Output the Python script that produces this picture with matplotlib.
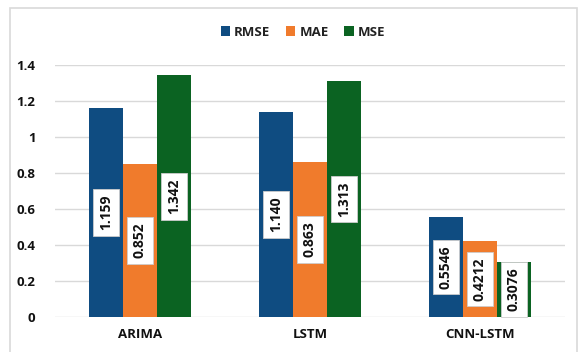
import numpy as np
import matplotlib
matplotlib.use("Agg")
import matplotlib.pyplot as plt
from matplotlib.patches import Rectangle

# data
models = ["ARIMA", "LSTM", "CNN-LSTM"]
rmse = [1.159, 1.140, 0.5546]
mae = [0.852, 0.863, 0.4212]
mse = [1.342, 1.313, 0.3076]
rmse_txt = ["1.159", "1.140", "0.5546"]
mae_txt = ["0.852", "0.863", "0.4212"]
mse_txt = ["1.342", "1.313", "0.3076"]
yticks = [0, 0.2, 0.4, 0.6, 0.8, 1, 1.2, 1.4]
ytick_labels = ["0", "0.2", "0.4", "0.6", "0.8", "1", "1.2", "1.4"]

plt.rcParams["font.family"] = ["Open Sans", "DejaVu Sans"]

colors = ["#0F4C81", "#F07B2C", "#0B6322"]
series = [("RMSE", rmse, rmse_txt), ("MAE", mae, mae_txt), ("MSE", mse, mse_txt)]

fig = plt.figure(figsize=(5.81, 3.52), dpi=100)
ax = fig.add_axes([55 / 581, 1 - 317 / 352, 510 / 581, (317 - 65) / 352])

# light frame round the whole chart
fig.patches.append(Rectangle((10 / 581, -0.05), 567 / 581, 1.05 - 8 / 352,
                             transform=fig.transFigure, fill=False,
                             edgecolor="#d9d9d9", linewidth=1.2))

x = np.arange(len(models))
w = 0.2
for i, (name, vals, txts) in enumerate(series):
    pos = x + (i - 1) * w
    ax.bar(pos, vals, w, color=colors[i], label=name, zorder=2)
    for p, v, t in zip(pos, vals, txts):
        ax.text(p, v / 2, t, rotation=90, ha="center", va="center",
                fontsize=10, fontweight="bold", color="#111111", zorder=3,
                bbox=dict(boxstyle="square,pad=0.4", facecolor="white",
                          edgecolor="#cccccc", linewidth=0.6))

ax.set_xlim(-0.5, 2.5)
ax.set_ylim(0, 1.4)
ax.set_yticks(yticks)
ax.set_yticklabels(ytick_labels)
ax.set_xticks(x)
ax.set_xticklabels(models)
ax.grid(axis="y", color="#d9d9d9", linewidth=1, zorder=0)
ax.set_axisbelow(True)
for s in ax.spines.values():
    s.set_visible(False)
ax.tick_params(axis="both", length=0, labelsize=9.5, colors="#111111")
ax.tick_params(axis="y", pad=14)
ax.tick_params(axis="x", pad=8)
for lab in ax.get_xticklabels() + ax.get_yticklabels():
    lab.set_fontweight("bold")

leg = fig.legend(loc="center", bbox_to_anchor=(303 / 581, 1 - 32 / 352), ncol=3,
                 frameon=False, fontsize=9.5, handlelength=0.7, handleheight=0.7,
                 handletextpad=0.3, columnspacing=1.2)
for t in leg.get_texts():
    t.set_fontweight("bold")
    t.set_color("#222222")

fig.savefig("out.png", dpi=100)
